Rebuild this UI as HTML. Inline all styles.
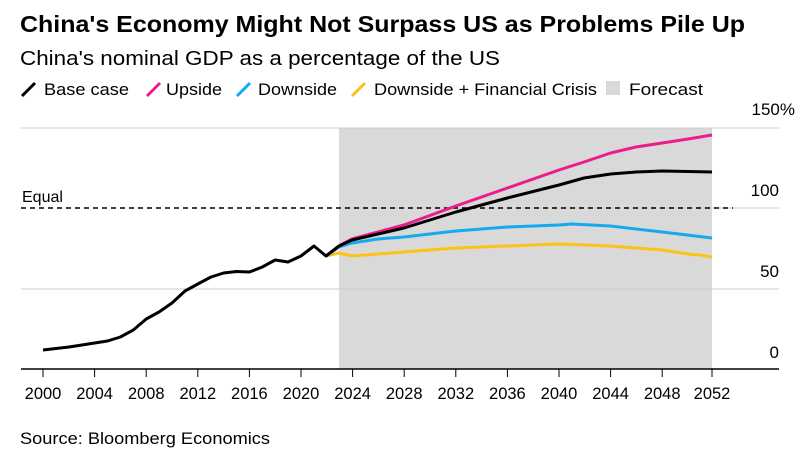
<!DOCTYPE html>
<html><head><meta charset="utf-8"><style>
body{margin:0;background:#fff;width:800px;height:462px;overflow:hidden;font-family:"Liberation Sans",sans-serif}
</style></head><body>
<svg width="800" height="462" xmlns="http://www.w3.org/2000/svg" font-family="Liberation Sans, sans-serif">
<text x="20" y="32" font-size="23" font-weight="bold" fill="#000" textLength="725" lengthAdjust="spacingAndGlyphs">China's Economy Might Not Surpass US as Problems Pile Up</text>
<text x="20" y="65" font-size="20" fill="#000" textLength="480" lengthAdjust="spacingAndGlyphs">China's nominal GDP as a percentage of the US</text>
<g font-size="17" fill="#000">
<line x1="22" y1="96" x2="35" y2="83" stroke="#000" stroke-width="3"/><text x="44" y="95" textLength="85" lengthAdjust="spacingAndGlyphs">Base case</text>
<line x1="147" y1="96" x2="160" y2="83" stroke="#ec1c8c" stroke-width="3"/><text x="166" y="95" textLength="56" lengthAdjust="spacingAndGlyphs">Upside</text>
<line x1="237" y1="96" x2="250" y2="83" stroke="#14a9f0" stroke-width="3"/><text x="258" y="95" textLength="79" lengthAdjust="spacingAndGlyphs">Downside</text>
<line x1="352" y1="96" x2="365" y2="83" stroke="#fcc317" stroke-width="3"/><text x="374" y="95" textLength="223" lengthAdjust="spacingAndGlyphs">Downside + Financial Crisis</text>
<rect x="606" y="81" width="14" height="14" fill="#d9d9d9"/><text x="629" y="95" textLength="74" lengthAdjust="spacingAndGlyphs">Forecast</text>
</g>
<rect x="339" y="128" width="373" height="241" fill="#d9d9d9"/>
<g stroke="#ccc" stroke-width="1">
<line x1="21" y1="128" x2="779" y2="128"/><line x1="21" y1="289" x2="779" y2="289"/><line x1="712" y1="208" x2="779" y2="208"/>
</g>
<line x1="21" y1="208" x2="733" y2="208" stroke="#000" stroke-width="1.5" stroke-dasharray="5,4"/>
<text x="22" y="202" font-size="16">Equal</text>
<line x1="21" y1="369" x2="779" y2="369" stroke="#000" stroke-width="1.5"/>
<g stroke="#000" stroke-width="1">
<line x1="43" y1="369" x2="43" y2="377"/><line x1="94.6" y1="369" x2="94.6" y2="377"/><line x1="146.2" y1="369" x2="146.2" y2="377"/><line x1="197.8" y1="369" x2="197.8" y2="377"/><line x1="249.4" y1="369" x2="249.4" y2="377"/><line x1="301" y1="369" x2="301" y2="377"/><line x1="352.6" y1="369" x2="352.6" y2="377"/><line x1="404.2" y1="369" x2="404.2" y2="377"/><line x1="455.8" y1="369" x2="455.8" y2="377"/><line x1="507.4" y1="369" x2="507.4" y2="377"/><line x1="559" y1="369" x2="559" y2="377"/><line x1="610.6" y1="369" x2="610.6" y2="377"/><line x1="662.2" y1="369" x2="662.2" y2="377"/><line x1="712" y1="369" x2="712" y2="377"/>
</g>
<g font-size="16.5" text-anchor="middle">
<text x="43" y="399">2000</text><text x="94.6" y="399">2004</text><text x="146.2" y="399">2008</text><text x="197.8" y="399">2012</text><text x="249.4" y="399">2016</text><text x="301" y="399">2020</text><text x="352.6" y="399">2024</text><text x="404.2" y="399">2028</text><text x="455.8" y="399">2032</text><text x="507.4" y="399">2036</text><text x="559" y="399">2040</text><text x="610.6" y="399">2044</text><text x="662.2" y="399">2048</text><text x="712" y="399">2052</text>
</g>
<g font-size="17" text-anchor="end">
<text x="795" y="115">150%</text><text x="779" y="196">100</text><text x="779" y="277">50</text><text x="779" y="358">0</text>
</g>
<g fill="none" stroke-width="3" stroke-linejoin="round">
<polyline stroke="#fcc317" points="326,256 339,253 352,256 378,254 404,252 455.8,248 507.4,246 559,244 610.6,246 662.2,250 688,254 700,255 712,257"/>
<polyline stroke="#14a9f0" points="326,256 339,247 352,243 378,239 404,237 455.8,231 507.4,227 559,225 572,224 610.6,226 662.2,232 712,238"/>
<polyline stroke="#ec1c8c" points="326,256 339,246 352,239 378,232 404,225 455.8,206 507.4,188 559,170 584,162 610.6,153 636,147 662.2,143 688,139 712,135"/>
<polyline stroke="#000" points="43,350 56,348.5 69,347 82,345 94.6,343 107.5,341 120.4,337 133.3,330 146.2,319 159,312 172,303 185,291 197.8,284 211,277 223.6,273 236.5,271.5 249.4,272 262.3,267 275.2,260 288,262 301,256 314,246 326,256 339,246 352,240 378,234 404,228 455.8,212 507.4,198 559,185 584,178 610.6,174 636,172 662.2,171 688,171.5 712,172"/>
</g>
<text x="20" y="444" font-size="17" textLength="250" lengthAdjust="spacingAndGlyphs">Source: Bloomberg Economics</text>
</svg>
</body></html>
